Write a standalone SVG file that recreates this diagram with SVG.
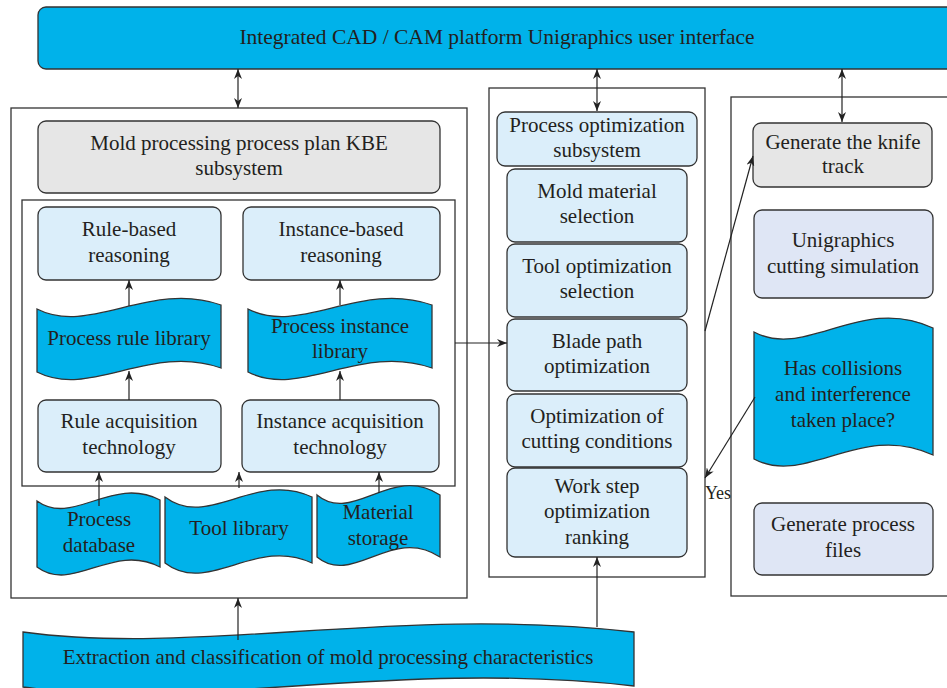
<svg xmlns="http://www.w3.org/2000/svg" width="947" height="688" viewBox="0 0 947 688">
<defs>
<style>
.t{font-family:"Liberation Serif","Times New Roman",serif;font-size:21px;fill:#231f20;text-anchor:middle}
.frame{fill:none;stroke:#333;stroke-width:1.3}
.cyan{fill:#00b2ea;stroke:#333;stroke-width:1.3}
.lb{fill:#dbeefa;stroke:#333;stroke-width:1.3}
.gr{fill:#e6e6e6;stroke:#333;stroke-width:1.3}
.lv{fill:#dfe6f5;stroke:#333;stroke-width:1.3}
.c{fill:none;stroke:#222;stroke-width:1.2}
</style>
<marker id="ah" viewBox="0 0 10 8" refX="10" refY="4" markerWidth="10" markerHeight="8" orient="auto-start-reverse" markerUnits="userSpaceOnUse"><path d="M0,0 L10,4 L0,8 L3,4z" fill="#222"/></marker>
</defs>
<rect width="947" height="688" fill="#fff"/>
<g id="frames">
<rect class="frame" x="11" y="108" width="456" height="490"/>
<rect class="frame" x="22" y="200" width="433" height="286"/>
<rect class="frame" x="489" y="88" width="216" height="489"/>
<rect class="frame" x="731" y="97" width="230" height="499"/>
</g>
<g id="top-bar"><rect class="cyan" x="38" y="7" width="930" height="62" rx="8"/><text class="t" x="497" y="44" style="font-size:21.5px">Integrated CAD / CAM platform Unigraphics user interface</text></g>
<g id="kbe"><rect class="gr" x="38" y="121" width="402" height="72" rx="8"/><text class="t" x="239" y="150">Mold processing process plan KBE</text><text class="t" x="239" y="175">subsystem</text></g>
<g id="rule-reasoning"><rect class="lb" x="38" y="207" width="183" height="73" rx="8"/><text class="t" x="129" y="236">Rule-based</text><text class="t" x="129" y="262">reasoning</text></g>
<g id="instance-reasoning"><rect class="lb" x="243" y="207" width="197" height="73" rx="8"/><text class="t" x="341" y="236">Instance-based</text><text class="t" x="341" y="262">reasoning</text></g>
<g id="rule-library"><path class="cyan" d="M37,309 C90,336 150,280 221,305 L221,368 C150,343 90,399 37,372 Z"/><text class="t" x="129" y="345">Process rule library</text></g>
<g id="instance-library"><path class="cyan" d="M248,309 C301,336 360,280 432,305 L432,368 C360,343 301,399 248,372 Z"/><text class="t" x="340" y="333">Process instance</text><text class="t" x="340" y="358">library</text></g>
<g id="rule-acq"><rect class="lb" x="38" y="400" width="183" height="72" rx="8"/><text class="t" x="129" y="428">Rule acquisition</text><text class="t" x="129" y="454">technology</text></g>
<g id="instance-acq"><rect class="lb" x="242" y="400" width="197" height="72" rx="8"/><text class="t" x="340" y="428">Instance acquisition</text><text class="t" x="340" y="454">technology</text></g>
<g id="process-db"><path class="cyan" d="M37,501 C73,527 112,475 160,500 L160,567 C112,542 73,594 37,567 Z"/><text class="t" x="99" y="526">Process</text><text class="t" x="99" y="552">database</text></g>
<g id="tool-lib"><path class="cyan" d="M165,497 C208,530 255,470 312,497 L312,563 C255,536 208,596 165,563 Z"/><text class="t" x="239" y="535">Tool library</text></g>
<g id="material"><path class="cyan" d="M317,495 C353,525 392,463 440,495 L440,557 C392,525 353,587 317,557 Z"/><text class="t" x="378" y="519">Material</text><text class="t" x="378" y="545">storage</text></g>
<g id="opt-sub"><rect class="lb" x="497" y="112" width="200" height="54" rx="8"/><text class="t" x="597" y="132">Process optimization</text><text class="t" x="597" y="157">subsystem</text></g>
<g id="mold-mat"><rect class="lb" x="507" y="169" width="180" height="73" rx="8"/><text class="t" x="597" y="198">Mold material</text><text class="t" x="597" y="223">selection</text></g>
<g id="tool-opt"><rect class="lb" x="507" y="244" width="180" height="73" rx="8"/><text class="t" x="597" y="273">Tool optimization</text><text class="t" x="597" y="298">selection</text></g>
<g id="blade"><rect class="lb" x="507" y="319" width="180" height="72" rx="8"/><text class="t" x="597" y="348">Blade path</text><text class="t" x="597" y="373">optimization</text></g>
<g id="cutting"><rect class="lb" x="507" y="394" width="180" height="73" rx="8"/><text class="t" x="597" y="423">Optimization of</text><text class="t" x="597" y="448">cutting conditions</text></g>
<g id="work-step"><rect class="lb" x="507" y="468" width="180" height="89" rx="8"/><text class="t" x="597" y="493">Work step</text><text class="t" x="597" y="518">optimization</text><text class="t" x="597" y="544">ranking</text></g>
<g id="knife"><rect class="gr" x="753" y="123" width="179" height="64" rx="8"/><text class="t" x="843" y="149">Generate the knife</text><text class="t" x="843" y="173">track</text></g>
<g id="ug-sim"><rect class="lv" x="754" y="210" width="179" height="88" rx="8"/><text class="t" x="843" y="247">Unigraphics</text><text class="t" x="843" y="273">cutting simulation</text></g>
<g id="collision"><path class="cyan" d="M754,332 C806,360 861,294 933,328 L933,455 C861,421 806,487 754,459 Z"/><text class="t" x="843" y="375">Has collisions</text><text class="t" x="843" y="401">and interference</text><text class="t" x="843" y="427">taken place?</text></g>
<g id="proc-files"><rect class="lv" x="754" y="503" width="179" height="72" rx="8"/><text class="t" x="843" y="531">Generate process</text><text class="t" x="843" y="557">files</text></g>
<g id="extraction"><path class="cyan" d="M23,632 C200,656 396,605 634,632 L634,686 C396,659 200,711 23,687 Z"/><text class="t" x="328" y="664">Extraction and classification of mold processing characteristics</text></g>
<g id="connectors">
<line class="c" x1="238" y1="69" x2="238" y2="108" marker-start="url(#ah)" marker-end="url(#ah)"/>
<line class="c" x1="597" y1="69" x2="597" y2="111" marker-start="url(#ah)" marker-end="url(#ah)"/>
<line class="c" x1="842" y1="69" x2="842" y2="122" marker-start="url(#ah)" marker-end="url(#ah)"/>
<line class="c" x1="129" y1="306" x2="129" y2="280" marker-end="url(#ah)"/>
<line class="c" x1="340" y1="305" x2="340" y2="280" marker-end="url(#ah)"/>
<line class="c" x1="129" y1="400" x2="129" y2="371" marker-end="url(#ah)"/>
<line class="c" x1="340" y1="400" x2="340" y2="371" marker-end="url(#ah)"/>
<line class="c" x1="99" y1="506" x2="99" y2="472" marker-end="url(#ah)"/>
<line class="c" x1="239" y1="488" x2="239" y2="472" marker-end="url(#ah)"/>
<line class="c" x1="379" y1="493" x2="379" y2="472" marker-end="url(#ah)"/>
<line class="c" x1="455" y1="343" x2="507" y2="343" marker-end="url(#ah)"/>
<line class="c" x1="705" y1="331" x2="753" y2="156" marker-end="url(#ah)"/>
<line class="c" x1="755" y1="397" x2="705" y2="478" marker-end="url(#ah)"/>
<line class="c" x1="238" y1="640" x2="238" y2="598" marker-end="url(#ah)"/>
<line class="c" x1="597" y1="627" x2="597" y2="557" marker-end="url(#ah)"/>
</g>
<text class="t" x="718" y="499" style="font-size:18px">Yes</text>
</svg>
